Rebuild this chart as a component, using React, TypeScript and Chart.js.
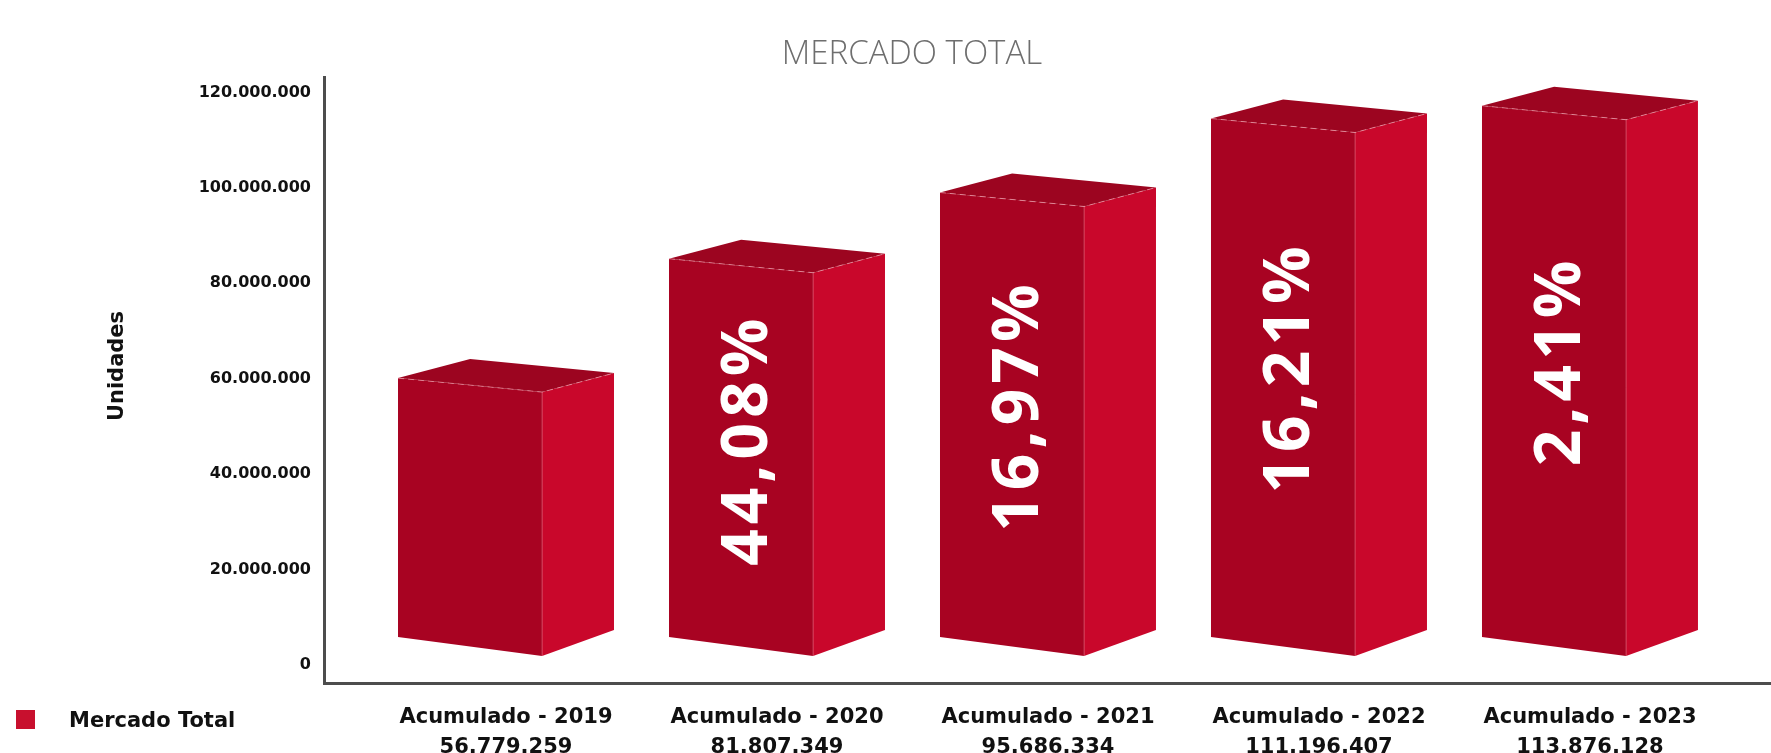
import React, { useEffect, useRef } from 'react';
import { Chart, registerables } from 'chart.js';

Chart.register(...registerables);

// ---- data ----
const categories = ['Acumulado - 2019', 'Acumulado - 2020', 'Acumulado - 2021', 'Acumulado - 2022', 'Acumulado - 2023'];
const totals = [56779259, 81807349, 95686334, 111196407, 113876128];
const growthLabels = ['', '44,08%', '16,97%', '16,21%', '2,41%'];
const yTickValues = [0, 20000000, 40000000, 60000000, 80000000, 100000000, 120000000];
const seriesName = 'Mercado Total';
const chartTitle = 'MERCADO TOTAL';
const yAxisTitle = 'Unidades';

// ---- style ----
const FRONT = '#a80322';
const SIDE = '#c9072b';
const TOP = '#9c0520';
const LEGEND_RED = '#c8102e';
const AXIS = '#4d4d4d';
const TEXT = '#111111';
const FONT = "'DejaVu Sans'";

const fmt = (n: number) => String(Math.round(n)).replace(/\B(?=(\d{3})+(?!\d))/g, '.');

const box3d = {
  id: 'box3d',
  beforeDatasetDraw() {
    return false;
  },
  afterDatasetsDraw(chart: any) {
    const ctx: CanvasRenderingContext2D = chart.ctx;
    const meta = chart.getDatasetMeta(0);
    meta.data.forEach((el: any, i: number) => {
      const { x, y, base, width } = el.getProps(['x', 'y', 'base', 'width'], true);
      const L = x - width / 2;
      const S = x + width / 2;
      const R = L + width * 0.667;
      const yt = y - 16;
      const yb = base - 28;
      const backX = L + width * 0.334;

      ctx.save();
      // side face
      ctx.fillStyle = SIDE;
      ctx.beginPath();
      ctx.moveTo(R, yt + 14);
      ctx.lineTo(S, yt - 5);
      ctx.lineTo(S, yb - 7);
      ctx.lineTo(R, yb + 19);
      ctx.closePath();
      ctx.fill();
      // front face
      ctx.fillStyle = FRONT;
      ctx.beginPath();
      ctx.moveTo(L, yt);
      ctx.lineTo(R, yt + 14);
      ctx.lineTo(R, yb + 19);
      ctx.lineTo(L, yb);
      ctx.closePath();
      ctx.fill();
      // top face
      ctx.fillStyle = TOP;
      ctx.beginPath();
      ctx.moveTo(L, yt);
      ctx.lineTo(backX, yt - 19);
      ctx.lineTo(S, yt - 5);
      ctx.lineTo(R, yt + 14);
      ctx.closePath();
      ctx.fill();
      // edges
      ctx.strokeStyle = 'rgba(255,190,200,0.55)';
      ctx.lineWidth = 1;
      ctx.setLineDash([6, 4]);
      ctx.beginPath();
      ctx.moveTo(L, yt);
      ctx.lineTo(R, yt + 14);
      ctx.lineTo(S, yt - 5);
      ctx.stroke();
      ctx.setLineDash([]);
      ctx.strokeStyle = 'rgba(255,200,210,0.3)';
      ctx.beginPath();
      ctx.moveTo(R, yt + 14);
      ctx.lineTo(R, yb + 19);
      ctx.stroke();

      // growth label
      const label = growthLabels[i];
      if (label) {
        const cx = (L + R) / 2 + 8;
        const cy = yt + 0.485 * (yb - yt);
        ctx.translate(cx, cy);
        ctx.rotate(-Math.PI / 2);
        ctx.fillStyle = '#ffffff';
        ctx.font = "bold 64px 'Open Sans'";
        (ctx as any).letterSpacing = '5px';
        ctx.textAlign = 'center';
        ctx.textBaseline = 'middle';
        ctx.fillText(label, 2.5, 0);
        (ctx as any).letterSpacing = '0px';
      }
      ctx.restore();
    });
  },
  afterDraw(chart: any) {
    const ctx: CanvasRenderingContext2D = chart.ctx;
    ctx.save();
    // title
    ctx.fillStyle = '#6e6e6e';
    ctx.font = "300 33px 'Open Sans'";
    ctx.textAlign = 'center';
    ctx.textBaseline = 'alphabetic';
    ctx.fillText(chartTitle, 912, 64);

    // y axis title
    ctx.save();
    ctx.translate(123, 366);
    ctx.rotate(-Math.PI / 2);
    ctx.fillStyle = TEXT;
    ctx.font = `bold 21px ${FONT}`;
    ctx.textAlign = 'center';
    ctx.textBaseline = 'alphabetic';
    ctx.fillText(yAxisTitle, 0, 0);
    ctx.restore();

    // legend
    const ds = chart.data.datasets[0];
    ctx.fillStyle = ds.backgroundColor;
    ctx.fillRect(16, 710, 19, 19);
    ctx.fillStyle = TEXT;
    ctx.font = `bold 21px ${FONT}`;
    ctx.textAlign = 'left';
    ctx.textBaseline = 'alphabetic';
    ctx.fillText(ds.label, 69, 727);
    ctx.restore();
  },
};

export default function App() {
  const canvasRef = useRef<HTMLCanvasElement | null>(null);

  useEffect(() => {
    const canvas = canvasRef.current;
    if (!canvas) return;
    const chart = new Chart(canvas, {
      type: 'bar',
      data: {
        datasets: [
          {
            label: seriesName,
            data: totals.map((v, i) => ({ x: i, y: v })),
            backgroundColor: LEGEND_RED,
            barPercentage: 0.797,
            categoryPercentage: 1,
          },
        ],
      },
      options: {
        responsive: false,
        maintainAspectRatio: false,
        animation: false,
        devicePixelRatio: 1,
        layout: { padding: { top: 77, left: 0, right: 0, bottom: 0 } },
        plugins: {
          legend: { display: false },
          title: { display: false },
          tooltip: { enabled: false },
        },
        scales: {
          x: {
            type: 'linear',
            offset: false,
            min: -0.6716,
            max: 4.668,
            grid: { display: false, drawTicks: false },
            border: { display: true, color: AXIS, width: 3 },
            afterBuildTicks: (s: any) => {
              s.ticks = categories.map((_, i) => ({ value: i }));
            },
            afterFit: (s: any) => {
              s.height = 70;
            },
            ticks: {
              autoSkip: false,
              maxRotation: 0,
              minRotation: 0,
              padding: 19,
              color: TEXT,
              font: { family: 'DejaVu Sans', weight: 'bold', size: 21, lineHeight: 1.45 },
              callback: (_v: any, index: number) => [categories[index], fmt(totals[index])],
            },
          },
          y: {
            type: 'linear',
            min: -3773000,
            max: 123249000,
            grid: { display: false, drawTicks: false },
            border: { display: true, color: AXIS, width: 3 },
            afterBuildTicks: (s: any) => {
              s.ticks = yTickValues.map((v) => ({ value: v }));
            },
            afterFit: (s: any) => {
              s.width = 324;
            },
            ticks: {
              padding: 13,
              color: TEXT,
              font: { family: 'DejaVu Sans', weight: 'bold', size: 16 },
              callback: (v: any) => fmt(Number(v)),
            },
          },
        },
      } as any,
      plugins: [box3d as any],
    });
    return () => chart.destroy();
  }, []);

  return (
    <div style={{ position: 'fixed', left: 0, top: 0, width: 1771, height: 753, background: '#ffffff' }}>
      <canvas ref={canvasRef} width={1771} height={753} style={{ display: 'block', width: 1771, height: 753 }} />
    </div>
  );
}
